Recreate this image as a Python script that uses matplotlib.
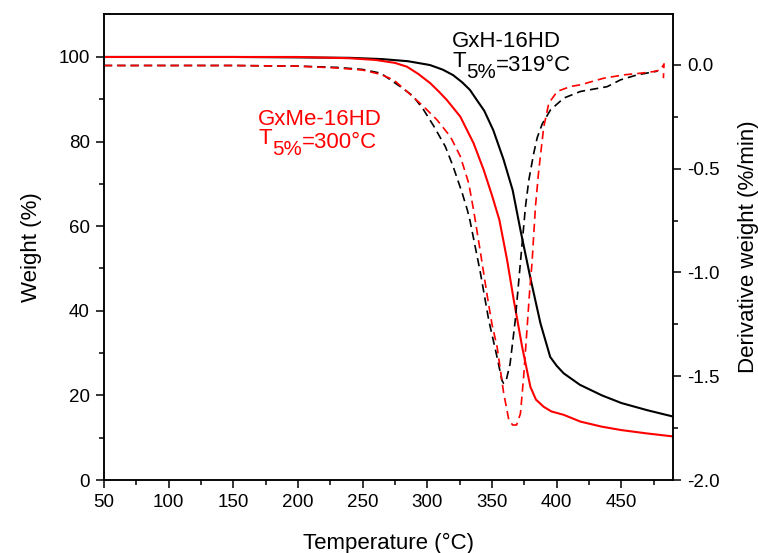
import matplotlib
matplotlib.use("Agg")
import matplotlib.pyplot as plt
from matplotlib.ticker import FixedLocator, FormatStrFormatter

plt.rcParams['font.family'] = ['Liberation Sans', 'DejaVu Sans']
plt.rcParams['axes.unicode_minus'] = False

# ---------------- data ----------------
# GxH-16HD weight (black solid)
T_h_tg = [50, 150, 200, 240, 265, 285, 302, 312, 320, 327, 333, 339, 344, 351, 359, 366,
          372, 380, 387.5, 395, 400, 405.5, 418, 435, 450, 470, 490]
W_h_tg = [100, 100, 99.9, 99.8, 99.5, 99.0, 98.1, 97.0, 95.7, 94.0, 92.2, 89.5, 87.3, 82.7,
          75.7, 68.5, 59.1, 47.3, 37.0, 29.1, 27.0, 25.2, 22.5, 20.0, 18.2, 16.5, 15.0]

# GxMe-16HD weight (red solid)
T_me_tg = [50, 150, 200, 240, 260, 275, 284.3, 293, 302.3, 309, 315.2, 325.5, 335.8, 343.6,
           349.9, 355.7, 361.7, 366.8, 373.3, 379.7, 384, 390, 396, 405.5, 418.4, 435, 450,
           470, 490]
W_me_tg = [100, 100, 100, 99.7, 99.3, 98.6, 97.7, 96.0, 93.8, 91.8, 89.8, 85.9, 79.6, 73.3,
           67.4, 61.5, 52.0, 42.6, 31.5, 22.0, 19.0, 17.3, 16.2, 15.4, 13.8, 12.6, 11.8,
           11.0, 10.3]

# GxH-16HD derivative (black dashed)
T_h_dtg = [50, 150, 200, 230, 250, 264, 279, 289, 297, 305, 314, 320, 327, 331, 333, 341, 347.5,
           354, 357.7, 359, 361, 364, 368, 372, 375.9, 378.5, 382.3, 385, 388.8, 395.2, 405.5,
           418.4, 439, 449.4, 462.3, 478]
D_h_dtg = [-0.003, -0.003, -0.006, -0.012, -0.022, -0.04, -0.104, -0.15, -0.215, -0.295, -0.394,
           -0.49, -0.618, -0.70, -0.75, -1.0, -1.23, -1.41, -1.52, -1.534, -1.52, -1.44, -1.23,
           -0.95, -0.683, -0.554, -0.425, -0.35, -0.285, -0.217, -0.16, -0.128, -0.105, -0.072,
           -0.048, -0.03]

# GxMe-16HD derivative (red dashed)
T_me_dtg = [50, 150, 200, 230, 250, 263.6, 273.9, 284.3, 297.1, 307.5, 317.8, 325.5, 332, 335.8,
            341, 346, 350, 354, 359, 363, 366, 369, 372, 374.5, 377, 379, 381, 383.6, 386.2, 390,
            393.9, 400.4, 410.7, 418.4, 436.5, 452, 464.9, 475.2, 480.3, 483, 482.5]
D_me_dtg = [-0.003, -0.003, -0.006, -0.015, -0.025, -0.045, -0.072, -0.128, -0.20, -0.265, -0.345,
            -0.44, -0.57, -0.70, -0.90, -1.10, -1.25, -1.36, -1.58, -1.71, -1.735, -1.735, -1.68,
            -1.50, -1.28, -1.10, -0.95, -0.683, -0.506, -0.30, -0.185, -0.128, -0.104, -0.096,
            -0.064, -0.048, -0.04, -0.032, -0.024, 0.005, -0.064]

x_ticks = [50, 100, 150, 200, 250, 300, 350, 400, 450]
y_ticks = [0, 20, 40, 60, 80, 100]
y2_ticks = [-2.0, -1.5, -1.0, -0.5, 0.0]

label_h = "GxH-16HD"
label_me = "GxMe-16HD"
t5_h = "=319°C"
t5_me = "=300°C"

# ---------------- figure ----------------
fig = plt.figure(figsize=(7.58, 5.53), dpi=100)
ax = fig.add_axes([0.137, 0.132, 0.751, 0.843])
ax2 = ax.twinx()

RED = '#ff0000'
ax.plot(T_h_tg, W_h_tg, color='black', lw=1.5)
ax.plot(T_me_tg, W_me_tg, color=RED, lw=1.5)
ax2.plot(T_h_dtg, D_h_dtg, color='black', lw=1.2, dashes=(5, 3))
ax2.plot(T_me_dtg, D_me_dtg, color=RED, lw=1.2, dashes=(5, 3))

ax.set_xlim(50, 490)
ax.set_ylim(0, 110.2)
ax2.set_ylim(-2.0, 0.246)

ax.set_xticks(x_ticks)
ax.xaxis.set_minor_locator(FixedLocator([75, 125, 175, 225, 275, 325, 375, 425, 475]))
ax.set_yticks(y_ticks)
ax.yaxis.set_minor_locator(FixedLocator([10, 30, 50, 70, 90]))
ax2.set_yticks(y2_ticks)
ax2.yaxis.set_major_formatter(FormatStrFormatter('%.1f'))
ax2.yaxis.set_minor_locator(FixedLocator([-1.75, -1.25, -0.75, -0.25]))

for a in (ax, ax2):
    for sp in a.spines.values():
        sp.set_linewidth(1.1)
    a.tick_params(which='major', direction='out', length=6, width=1.1, labelsize=13.5, pad=4)
    a.tick_params(which='minor', direction='out', length=3.5, width=1.1)
ax.tick_params(axis='y', right=False)

ax.set_xlabel("Temperature (°C)", fontsize=16, labelpad=16)
ax.set_ylabel("Weight (%)", fontsize=16, labelpad=12)
ax2.set_ylabel("Derivative weight (%/min)", fontsize=16, labelpad=13)

# ---------------- annotations ----------------
renderer = fig.canvas.get_renderer()
FS = 16


def rich(axis, x, y, parts, color):
    dx = 0.0
    for s, dy, sc in parts:
        t = axis.annotate(s, (x, y), xycoords='data', xytext=(dx, -dy),
                          textcoords='offset pixels', ha='left', va='baseline',
                          color=color, fontsize=FS * sc)
        dx += t.get_window_extent(renderer).width


ax.annotate(label_h, (319.3, 102.4), ha='left', va='baseline', fontsize=FS, color='black')
rich(ax, 319.8, 97.6, [("T", 0, 1.0), ("5%", 11, 0.92), (t5_h, 4, 1.0)], 'black')

ax.annotate(label_me, (169.4, 83.9), ha='left', va='baseline', fontsize=FS, color=RED)
rich(ax, 169.4, 79.4, [("T", 0, 1.0), ("5%", 11, 0.92), (t5_me, 4, 1.0)], RED)

fig.savefig("out.png", dpi=100)
